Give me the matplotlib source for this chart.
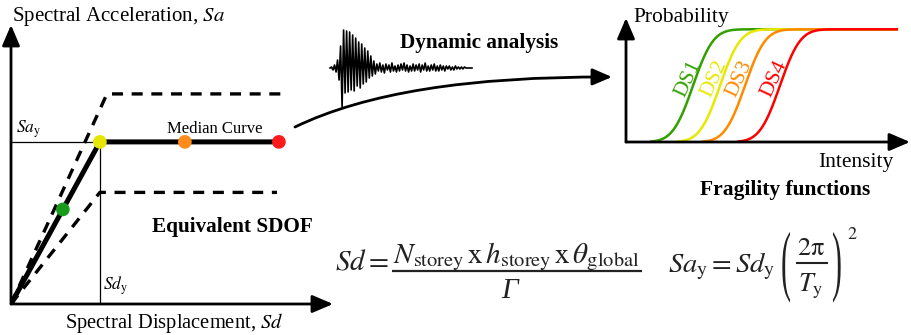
import numpy as np
import matplotlib
matplotlib.use("Agg")
import matplotlib.pyplot as plt
from matplotlib.patches import FancyArrowPatch, PathPatch
from matplotlib.path import Path
from matplotlib.textpath import TextPath
from matplotlib.font_manager import FontProperties
from matplotlib.transforms import Affine2D
from math import erf

plt.rcParams['font.family'] = ['Liberation Serif', 'DejaVu Serif']
plt.rcParams['mathtext.fontset'] = 'stix'

# ---------------- data ----------------
# capacity curve (normalised Sd, Sa)
median_sd = [0.0, 0.276, 0.832]
median_sa = [0.0, 0.581, 0.581]
upper_sd = [0.0, 0.298, 0.857]
upper_sa = [0.0, 0.753, 0.753]
lower_sd = [0.0, 0.276, 0.826]
lower_sa = [0.0, 0.400, 0.400]
ds_point_sd = [0.161, 0.276, 0.540, 0.832]
ds_point_sa = [0.339, 0.581, 0.581, 0.581]
ds_colors = ['#1a9a1a', '#e6e600', '#ff8c1a', '#ff1a1a']
curve_colors = ['#33a000', '#e8e800', '#ff8a00', '#ff0000']

# fragility functions
ds_labels = ['DS1', 'DS2', 'DS3', 'DS4']
ds_median = [0.236, 0.331, 0.419, 0.542]
ds_sigma = [0.056, 0.056, 0.056, 0.056]
intensity_max = 0.958

# ground motion record (amplitude samples)
record_amp = [0, 1, -2, 3, -4, 8, -12, 22, -39, 38, -25, 37, -24, 36, -22, 33,
              -23, 30, -18, 26, -20, 24, -16, 20, -14, 17, -10, 12, -8, 7, -6,
              4, -3, 5, -4, 3, -5, 4, -2, 3, -4,
              5, -3, 2, -4, 3, -3, 4, -2, 5, -3,
              3, -4, 2, -3, 4, -3, 3, -2, 4, -4,
              3, -2, 5, -3, 2, -3, 3, -2, 4, -3,
              2, -3, 3, -2, 2, -3, 2, -1, 2, -2,
              1, -2, 2, -1, 1, -1, 1, -1, 1, 0,
              0, 0, 0, 0]

W, H = 911, 335
fig = plt.figure(figsize=(W / 100, H / 100), dpi=100)

def fig_rect(x0, y0, x1, y1):
    # pixel box (top-left origin) -> figure fraction rect
    return [x0 / W, (H - y1) / H, (x1 - x0) / W, (y1 - y0) / H]

ARROW = dict(arrowstyle='-|>,head_length=0.7,head_width=0.3', mutation_scale=18,
             lw=2, color='black', shrinkA=0, shrinkB=0)

# ---------------- capacity curve axes ----------------
axc = fig.add_axes(fig_rect(11, 25, 333, 304))
axc.set_xlim(0, 1)
axc.set_ylim(0, 1)
axc.axis('off')
for (x1, y1) in [(1, 0), (0, 1)]:
    axc.annotate('', xy=(x1, y1), xytext=(0, 0), arrowprops=ARROW, annotation_clip=False)
# yield reference lines
axc.plot([0, median_sd[1]], [median_sa[1]] * 2, color='black', lw=0.9)
axc.plot([median_sd[1]] * 2, [0, median_sa[1]], color='black', lw=0.9)
axc.plot(upper_sd, upper_sa, color='black', lw=2.4, ls=(0, (3.3, 2.6)))
axc.plot(lower_sd, lower_sa, color='black', lw=2.4, ls=(0, (3.3, 2.6)))
axc.plot(median_sd, median_sa, color='black', lw=3.6, solid_capstyle='butt')
axc.scatter(ds_point_sd, ds_point_sa, s=78, c=ds_colors, zorder=5, clip_on=False)

# ---------------- fragility axes ----------------
axf = fig.add_axes(fig_rect(626, 18, 910, 142))
axf.set_xlim(0, 1)
axf.set_ylim(0, 1.1)
axf.axis('off')
for (x1, y1) in [(1, 0), (0, 1.1)]:
    axf.annotate('', xy=(x1, y1), xytext=(0, 0), arrowprops=ARROW, annotation_clip=False)
for lab, m, s, col in zip(ds_labels, ds_median, ds_sigma, curve_colors):
    xs = np.linspace(m - 2.7 * s, intensity_max, 300)
    ps = np.array([0.5 * (1 + erf((x - m) / (s * np.sqrt(2)))) for x in xs])
    axf.plot(xs, ps, color=col, lw=1.8, solid_capstyle='butt')
    axf.text(m - 0.018, 0.56, lab, color=col, rotation=65, fontsize=15.5,
             ha='center', va='center', rotation_mode='anchor')

# ---------------- overlay (text, arrow, record) ----------------
axo = fig.add_axes([0, 0, 1, 1], zorder=10)
axo.set_xlim(0, W)
axo.set_ylim(H, 0)
axo.axis('off')
axo.patch.set_alpha(0)

axo.text(12, 21, 'Spectral Acceleration, $\\mathit{Sa}$', fontsize=15, ha='left', va='baseline')
axo.text(65, 328, 'Spectral Displacement, $\\mathit{Sd}$', fontsize=14.8, ha='left', va='baseline')
axo.text(215, 133, 'Median Curve', fontsize=12, ha='center', va='baseline')
axo.text(16, 133, '$Sa_{\\mathrm{y}}$', fontsize=12.5, ha='left', va='baseline')
axo.text(103, 290, '$Sd_{\\mathrm{y}}$', fontsize=12.5, ha='left', va='baseline')
axo.text(152, 232, 'Equivalent SDOF', fontsize=15.3, fontweight='bold', ha='left', va='baseline')
axo.text(400, 48, 'Dynamic analysis', fontsize=15.3, fontweight='bold', ha='left', va='baseline')
axo.text(633, 22, 'Probability', fontsize=15.5, ha='left', va='baseline')
axo.text(893, 167, 'Intensity', fontsize=15.5, ha='right', va='baseline')
axo.text(785, 195, 'Fragility functions', fontsize=15.5, fontweight='bold', ha='center', va='baseline')

EQ_COLOR = '#222222'
# equation 1 (built from pieces so the Gamma can be italic)
axo.text(335, 269, r'$Sd=$', fontsize=21, ha='left', va='baseline', color=EQ_COLOR)
axo.text(516, 263, r'$N_{\mathrm{storey}}\,\mathrm{x}\,h_{\mathrm{storey}}\,\mathrm{x}\,\theta_{\mathrm{global}}$',
         fontsize=21, ha='center', va='baseline', color=EQ_COLOR)
axo.plot([392, 642], [271, 271], color=EQ_COLOR, lw=1.6, solid_capstyle='butt')
axo.text(510, 298, 'Γ', fontsize=21, fontstyle='italic', ha='center', va='baseline', color=EQ_COLOR)

# equation 2
axo.text(668, 272, r'$Sa_{\mathrm{y}}=Sd_{\mathrm{y}}$', fontsize=20.5, ha='left', va='baseline', color=EQ_COLOR)
axo.text(811, 255, r'$2\mathrm{\pi}$', fontsize=19, ha='center', va='baseline', color=EQ_COLOR)
axo.plot([796, 828], [263, 263], color=EQ_COLOR, lw=1.5, solid_capstyle='butt')
axo.text(811, 291, r'$T_{\mathrm{y}}$', fontsize=19, ha='center', va='baseline', color=EQ_COLOR)
axo.text(847, 239, r'$2$', fontsize=13, ha='left', va='baseline', color=EQ_COLOR)
fp = FontProperties(family='Liberation Serif')
for ch, x0 in [('(', 781), (')', 832)]:
    tp = TextPath((0, 0), ch, size=30, prop=fp)
    tr = Affine2D().scale(1.0, -2.6).translate(x0, 286) + axo.transData
    axo.add_patch(PathPatch(tp, transform=tr, color=EQ_COLOR, lw=0))

# record
rx = np.linspace(330, 472, len(record_amp))
ry = 68 - np.array(record_amp)
axo.plot(rx, ry, color='black', lw=1.2)

# curved arrow
path = Path([(295, 127), (400, 76), (612, 77)], [Path.MOVETO, Path.CURVE3, Path.CURVE3])
arr = FancyArrowPatch(path=path, arrowstyle='-|>,head_length=0.7,head_width=0.3',
                      mutation_scale=17, lw=2, color='black')
axo.add_patch(arr)

fig.savefig('out.png', dpi=100)
